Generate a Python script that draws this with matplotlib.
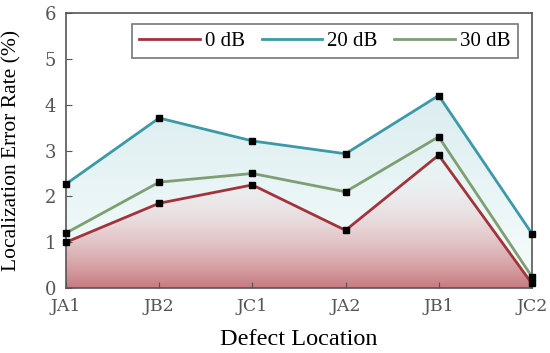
import numpy as np
import matplotlib.pyplot as plt
from matplotlib.patches import Polygon

locations = ['JA1', 'JB2', 'JC1', 'JA2', 'JB1', 'JC2']
err_0db = [1.0, 1.85, 2.25, 1.26, 2.9, 0.1]
err_20db = [2.27, 3.71, 3.21, 2.93, 4.2, 1.19]
err_30db = [1.2, 2.31, 2.5, 2.1, 3.3, 0.25]

plt.rcParams['font.family'] = ['Liberation Serif', 'DejaVu Serif']

fig = plt.figure(figsize=(5.5, 3.53), dpi=100)
ax = fig.add_axes([0.12, 0.184, 0.847, 0.779])
x = np.arange(len(locations))


# gradient fill clipped to the area under a curve
def grad_fill(ax, xs, ys, top_rgba, bot_rgba, ymax):
    grad = np.linspace(0, 1, 256)[:, None]
    top = np.array(top_rgba)
    bot = np.array(bot_rgba)
    img = bot + (top - bot) * grad
    img = img[:, None, :].repeat(2, axis=1)
    im = ax.imshow(img, extent=[xs[0], xs[-1], 0, ymax], origin='lower',
                   aspect='auto', zorder=1)
    verts = [(xs[0], 0)] + list(zip(xs, ys)) + [(xs[-1], 0)]
    poly = Polygon(verts, closed=True, facecolor='none', edgecolor='none')
    ax.add_patch(poly)
    im.set_clip_path(poly)


grad_fill(ax, x, err_20db, (0.86, 0.93, 0.94, 1), (0.97, 0.99, 0.99, 1), 4.2)
grad_fill(ax, x, err_0db, (1, 1, 1, 0.0), (0.78, 0.48, 0.50, 1), 2.9)

ax.plot(x, err_0db, color='#a2333b', lw=2, label='0 dB', zorder=3)
ax.plot(x, err_20db, color='#3b9aa6', lw=2, label='20 dB', zorder=3)
ax.plot(x, err_30db, color='#7d9f72', lw=2, label='30 dB', zorder=3)
for ys in (err_0db, err_20db, err_30db):
    ax.plot(x, ys, ls='none', marker='s', ms=4.5, color='black', zorder=4,
            clip_on=False)

ax.set_xlim(0, 5)
ax.set_ylim(0, 6)
ax.set_xticks(x)
ax.set_xticklabels(locations, fontsize=12.5, color='#333333',
                   family='DejaVu Serif')
ax.set_yticks(range(7))
ax.set_yticklabels([str(v) for v in range(7)], fontsize=13, color='#444444',
                   family='DejaVu Serif')
ax.tick_params(axis='y', direction='in', colors='#555555', length=4, pad=7)
ax.tick_params(axis='x', direction='in', colors='#555555', length=4, pad=7)
for s in ax.spines.values():
    s.set_color('#555555')
    s.set_linewidth(1.2)

ax.set_xlabel('Defect Location', fontsize=17.5)
ax.set_ylabel('Localization Error Rate (%)', fontsize=15.5)
ax.yaxis.set_label_coords(-0.095, 0.5)
ax.xaxis.set_label_coords(0.5, -0.15)

leg = ax.legend(loc='upper right', ncol=3, fontsize=15, frameon=True,
                fancybox=False, edgecolor='#555555', handlelength=2.9,
                handletextpad=0.25, columnspacing=0.8,
                bbox_to_anchor=(0.97, 0.96), borderpad=0.35, borderaxespad=0)
leg.get_frame().set_linewidth(1.2)

fig.savefig('out.png', dpi=100)
